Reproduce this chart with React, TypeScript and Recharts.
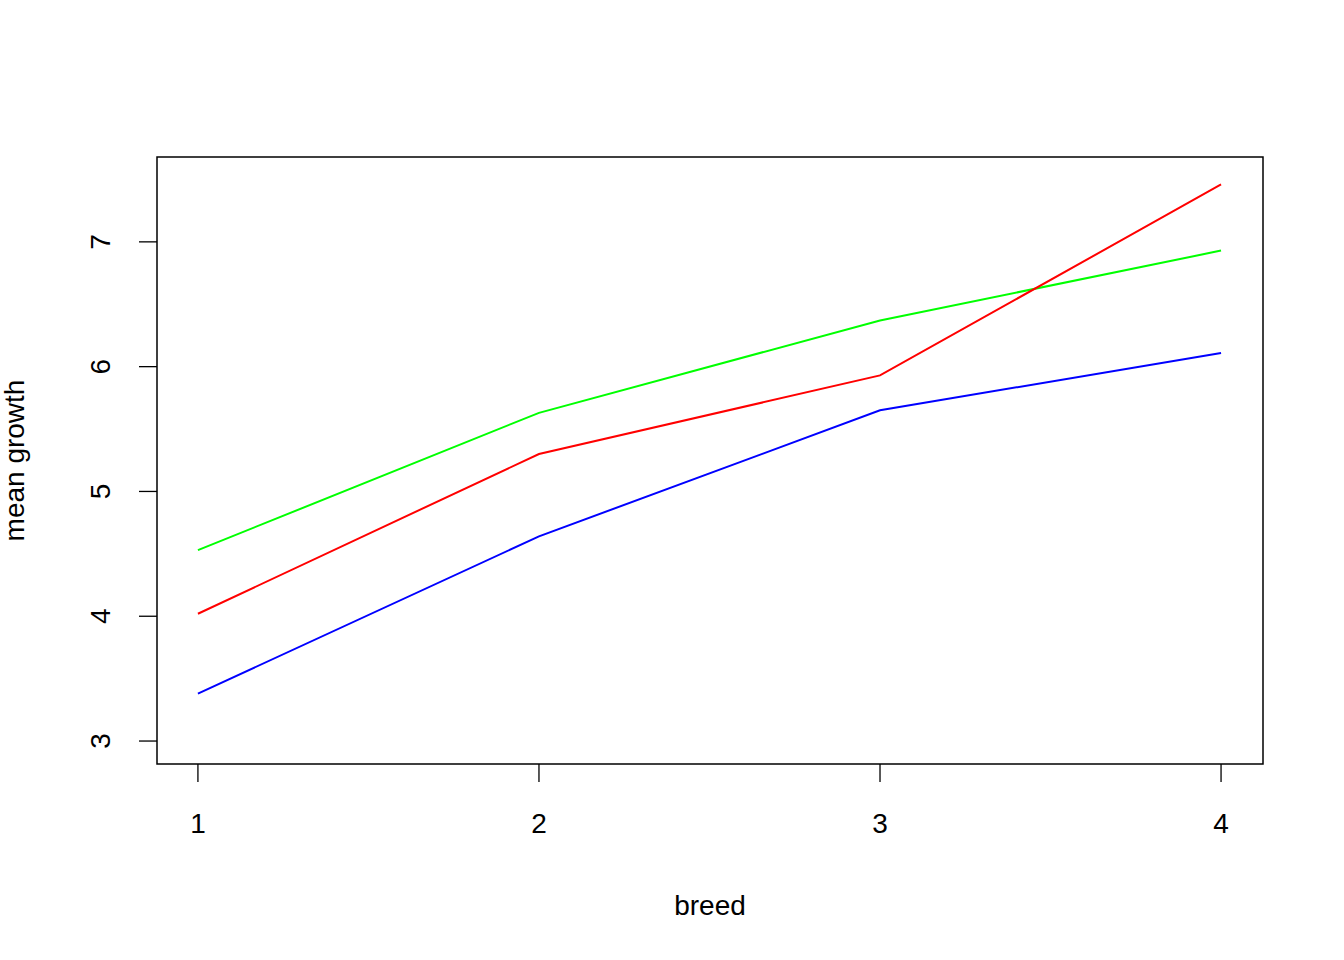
import { LineChart, Line, XAxis, YAxis, ReferenceArea, Label } from "recharts";

const breeds = [1, 2, 3, 4];
const greenSeries = [4.53, 5.63, 6.37, 6.93];
const redSeries = [4.02, 5.3, 5.93, 7.46];
const blueSeries = [3.38, 4.64, 5.65, 6.11];
const yTicks = [3, 4, 5, 6, 7];

const data = breeds.map((b, i) => ({
  breed: b,
  green: greenSeries[i],
  red: redSeries[i],
  blue: blueSeries[i],
}));

const font = "'Liberation Sans', Arial, sans-serif";

const XTick = (props: any) => {
  const { x, y, payload } = props;
  return (
    <g>
      <line x1={x} x2={x} y1={y} y2={y + 18} stroke="#000" strokeWidth={1.3} />
      <text x={x} y={y + 69} textAnchor="middle" fontSize={28} fontFamily={font} fill="#000">
        {payload.value}
      </text>
    </g>
  );
};

const YTick = (props: any) => {
  const { x, y, payload } = props;
  return (
    <g>
      <line x1={x} x2={x - 18} y1={y} y2={y} stroke="#000" strokeWidth={1.3} />
      <text
        x={x - 47}
        y={y}
        transform={`rotate(-90 ${x - 47} ${y})`}
        textAnchor="middle"
        fontSize={28}
        fontFamily={font}
        fill="#000"
      >
        {payload.value}
      </text>
    </g>
  );
};

export default function App() {
  return (
    <div style={{ position: "absolute", left: 0, top: 0, background: "#fff" }}>
      <LineChart
        width={1344}
        height={960}
        data={data}
        margin={{ top: 157, left: 0, right: 81, bottom: 0 }}
      >
        <XAxis
          dataKey="breed"
          type="number"
          domain={[0.88, 4.123]}
          ticks={breeds}
          axisLine={false}
          tickLine={false}
          tickSize={0}
          tickMargin={0}
          height={196}
          tick={<XTick />}
          allowDataOverflow
        >
          <Label value="breed" position="insideBottom" offset={45} fontSize={28} fontFamily={font} fill="#000" />
        </XAxis>
        <YAxis
          type="number"
          domain={[2.816, 7.68]}
          ticks={yTicks}
          axisLine={false}
          tickLine={false}
          tickSize={0}
          tickMargin={0}
          width={157}
          tick={<YTick />}
          allowDataOverflow
        >
          <Label
            value="mean growth"
            angle={-90}
            position="insideLeft"
            offset={14}
            fontSize={28}
            fontFamily={font}
            fill="#000"
            style={{ textAnchor: "middle" }}
          />
        </YAxis>
        <ReferenceArea
          x1={0.88}
          x2={4.123}
          y1={2.816}
          y2={7.68}
          fill="none"
          stroke="#000"
          strokeWidth={1.5}
          fillOpacity={0}
          ifOverflow="visible"
        />
        <Line dataKey="green" stroke="#00ff00" strokeWidth={2} dot={false} isAnimationActive={false} />
        <Line dataKey="red" stroke="#ff0000" strokeWidth={2} dot={false} isAnimationActive={false} />
        <Line dataKey="blue" stroke="#0000ff" strokeWidth={2} dot={false} isAnimationActive={false} />
      </LineChart>
    </div>
  );
}
